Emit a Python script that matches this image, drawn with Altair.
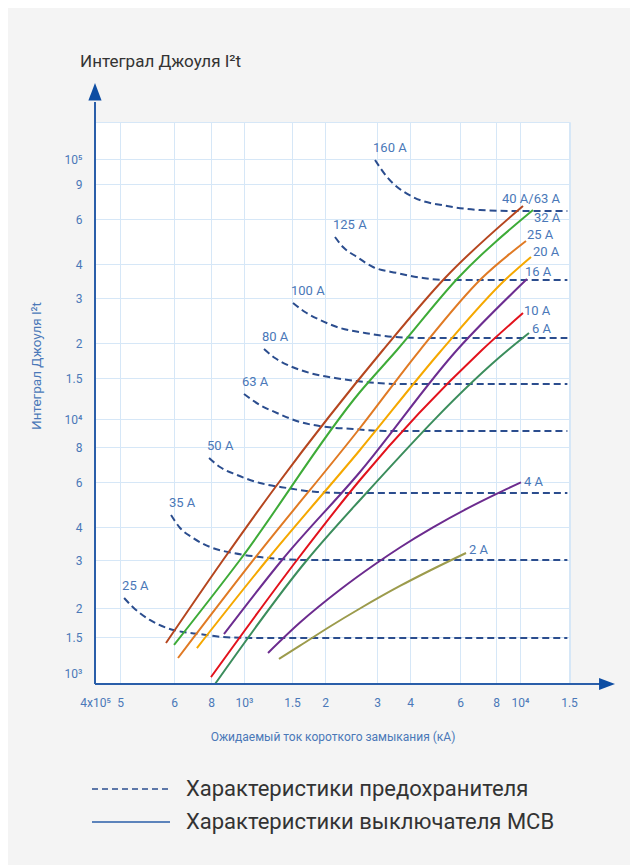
import altair as alt
import pandas as pd

# ---------------- axis ticks ----------------
x_ticks = [400, 500, 600, 800, 1000, 1500, 2000, 3000, 4000, 6000, 8000, 10000, 15000]
x_tick_labels = ["4x10⁵", "5", "6", "8", "10³", "1.5", "2", "3", "4", "6", "8", "10⁴", "1.5"]
y_ticks = [1000, 1500, 2000, 3000, 4000, 6000, 8000, 10000, 15000, 20000, 30000, 40000, 60000, 90000, 100000]
y_tick_labels = ["10³", "1.5", "2", "3", "4", "6", "8", "10⁴", "1.5", "2", "3", "4", "6", "9", "10⁵"]

# ---------------- fuse characteristics (dashed) ----------------
fuse_names = ["25 A", "35 A", "50 A", "63 A", "80 A", "100 A", "125 A", "160 A"]
fuse_x = [
    [507, 522, 553, 586, 643, 734, 868, 1052, 14800],
    [594, 629, 696, 794, 928, 1145, 1355, 1755, 14800],
    [788, 850, 954, 1145, 1438, 1865, 2374, 14800],
    [1000, 1145, 1321, 1608, 2031, 2488, 3217, 14800],
    [1184, 1299, 1475, 1755, 2162, 2732, 3666, 14800],
    [1513, 1680, 1915, 2248, 2732, 3510, 4704, 14800],
    [2162, 2301, 2567, 2908, 3572, 4445, 5400, 14800],
    [2954, 3273, 4098, 5400, 7040, 9370, 14800],
]
fuse_y = [
    [2176, 2017, 1776, 1640, 1576, 1545, 1500, 1485, 1485],
    [4457, 3965, 3634, 3360, 3189, 3080, 3026, 3000, 3000],
    [7308, 6787, 6355, 5946, 5684, 5483, 5435, 5435],
    [12805, 11485, 10611, 9764, 9382, 9233, 9090, 9090],
    [19040, 17680, 16555, 15630, 15000, 14420, 14140, 14140],
    [28680, 26440, 24610, 22900, 21890, 21110, 20920, 20920],
    [51020, 46620, 42600, 39000, 37070, 35530, 34950, 34930],
    [99580, 92700, 77420, 69750, 66590, 65830, 65830],
]

# ---------------- MCB characteristics (solid) ----------------
mcb_names = ["2 A", "4 A", "6 A", "10 A", "16 A", "20 A", "25 A", "32 A", "40 A/63 A"]
mcb_x = [
    [1344, 1608, 2080, 2627, 3666, 4704, 6295],
    [1225, 1608, 2248, 2954, 3666, 4820, 6345, 8075, 10080],
    [822, 1710, 2627, 8944, 10773],
    [800, 1567, 2627, 7153, 10251],
    [874, 1379, 2627, 5856, 10596],
    [717, 1214, 2627, 5102, 8698, 10953],
    [619, 1097, 2627, 4338, 7153, 10509],
    [600, 973, 2627, 3572, 5904, 11136],
    [584, 868, 1321, 3161, 5313, 10251],
]
mcb_y = [
    [1171, 1360, 1665, 1990, 2409, 2745, 3189],
    [1253, 1730, 2332, 2893, 3345, 3986, 4717, 5400, 5979],
    [900, 3000, 5102, 18880, 21886],
    [962, 3000, 6099, 18880, 26207],
    [1545, 3000, 6514, 18880, 35230],
    [1325, 3000, 7805, 18574, 34930, 42600],
    [1184, 3053, 9308, 18880, 35530, 49215],
    [1371, 3000, 13060, 18880, 35530, 66590],
    [1402, 3000, 5840, 18880, 35530, 69750],
]
mcb_colors = ["#9c9b4c", "#6c2b8e", "#3b8d5c", "#e2121c", "#6c2d90",
              "#f5a800", "#e07a24", "#3eab38", "#b5461f"]

# ---------------- texts ----------------
top_title = "Интеграл Джоуля I²t"
y_title = "Интеграл Джоуля I²t"
x_title = "Ожидаемый ток короткого замыкания (кА)"
legend_fuse = "Характеристики предохранителя"
legend_mcb = "Характеристики выключателя MCB"

# ---------------- styling / layout ----------------
BLUE = "#4a78b8"
FUSE = "#2b4d8e"
AXIS = "#2a5ea9"
GRID = "#d6e7f7"
FONT = "Roboto"
W, H = 475, 562

# piecewise log scales (the original axis is drawn schematically)
x_domain = x_ticks
x_range = [0, 25, 79, 116, 149, 197, 230, 282, 315, 365, 401, 425, 474]
y_domain = [900] + y_ticks + [140000]
y_range = [562, 551, 515, 486, 438, 405, 360, 325, 297, 256, 221, 176, 142, 97, 62, 37, 0]


def label_expr(vals, labs):
    s = "''"
    for v, l in reversed(list(zip(vals, labs))):
        s = f"datum.value == {v} ? '{l}' : ({s})"
    return s


x_axis = alt.Axis(values=x_ticks, labelExpr=label_expr(x_ticks, x_tick_labels), title=None,
                  domain=False, ticks=False, tickSize=0, labelPadding=13, labelFont=FONT,
                  labelFontSize=12, labelColor=BLUE, gridColor=GRID, gridWidth=1,
                  labelOverlap=False, labelFlush=False, labelBound=False)
y_axis = alt.Axis(values=y_ticks, labelExpr=label_expr(y_ticks, y_tick_labels), title=None,
                  domain=False, ticks=False, tickSize=0, labelPadding=13, labelFont=FONT,
                  labelFontSize=12, labelColor=BLUE, gridColor=GRID, gridWidth=1,
                  gridOpacity={"condition": {"test": "datum.value == 1000", "value": 0}, "value": 1},
                  labelOverlap=False, labelFlush=False, labelBound=False)

xs = alt.Scale(type="log", domain=x_domain, range=x_range, nice=False)
ys = alt.Scale(type="log", domain=y_domain, range=y_range, nice=False)
X = alt.X("x:Q", scale=xs, axis=x_axis)
Y = alt.Y("y:Q", scale=ys, axis=y_axis)

fuse_rows = []
for i, n in enumerate(fuse_names):
    for j, (a, b) in enumerate(zip(fuse_x[i], fuse_y[i])):
        fuse_rows.append({"name": n, "x": a, "y": b, "o": j})
fuse_df = pd.DataFrame(fuse_rows)

mcb_rows = []
for i, n in enumerate(mcb_names):
    for j, (a, b) in enumerate(zip(mcb_x[i], mcb_y[i])):
        mcb_rows.append({"name": n, "x": a, "y": b, "o": j})
mcb_df = pd.DataFrame(mcb_rows)

fuse_lines = alt.Chart(fuse_df).mark_line(
    strokeDash=[7, 4], strokeWidth=2, color=FUSE, interpolate="monotone"
).encode(x=X, y=Y, detail="name:N", order="o:Q")

mcb_lines = alt.Chart(mcb_df).mark_line(strokeWidth=2, interpolate="monotone").encode(
    x=X, y=Y,
    color=alt.Color("name:N", scale=alt.Scale(domain=mcb_names, range=mcb_colors), legend=None),
    order="o:Q",
)

fuse_lab_df = pd.DataFrame({"name": fuse_names,
                            "x": [v[0] for v in fuse_x],
                            "y": [v[0] for v in fuse_y]})
fuse_labels = alt.Chart(fuse_lab_df).mark_text(
    align="left", baseline="middle", dx=-2, dy=-12, fontSize=13, font=FONT, color=BLUE
).encode(x=X, y=Y, text="name:N")

# label offsets relative to the end of each MCB curve
mcb_offsets = {"2 A": (3, -3), "4 A": (3, 0), "6 A": (3, -4), "10 A": (1, -2),
               "16 A": (-2, -7), "20 A": (2, -5), "25 A": (1, -6), "32 A": (1, 8),
               "40 A/63 A": (-21, -7)}
mcb_label_layers = []
for i, n in enumerate(mcb_names):
    d = pd.DataFrame({"name": [n], "x": [mcb_x[i][-1]], "y": [mcb_y[i][-1]]})
    dx, dy = mcb_offsets[n]
    mcb_label_layers.append(
        alt.Chart(d).mark_text(align="left", baseline="middle", dx=dx, dy=dy,
                               fontSize=13, font=FONT, color=BLUE)
        .encode(x=X, y=Y, text="name:N")
    )

one = pd.DataFrame({"k": [0]})
base = alt.Chart(one)

y_axis_line = base.mark_rule(color=AXIS, strokeWidth=2).encode(
    x=alt.value(0), y=alt.value(H), y2=alt.value(-20))
x_axis_line = base.mark_rule(color=AXIS, strokeWidth=2).encode(
    x=alt.value(0), x2=alt.value(506), y=alt.value(H))
y_arrow = base.mark_point(shape="M0,-1L0.55,0.45L-0.55,0.45Z", filled=True, size=576,
                          color="#0d4da3", opacity=1).encode(x=alt.value(0), y=alt.value(-27))
x_arrow = base.mark_point(shape="M1,0L-0.45,0.55L-0.45,-0.55Z", filled=True, size=484,
                          color="#0d4da3", opacity=1).encode(x=alt.value(509), y=alt.value(H))

top_title_t = base.mark_text(align="left", baseline="middle", fontSize=17, font=FONT,
                             color="#333333").encode(
    x=alt.value(-15), y=alt.value(-60), text=alt.value(top_title))
y_title_t = base.mark_text(align="center", baseline="middle", fontSize=13.5, font=FONT,
                           color=BLUE, angle=270).encode(
    x=alt.value(-58), y=alt.value(244), text=alt.value(y_title))
x_title_t = base.mark_text(align="center", baseline="middle", fontSize=12, font=FONT,
                           color=BLUE).encode(
    x=alt.value(238), y=alt.value(615), text=alt.value(x_title))

leg_dash = base.mark_rule(color=FUSE, strokeWidth=1.6, strokeDash=[6, 4]).encode(
    x=alt.value(-3), x2=alt.value(75), y=alt.value(667))
leg_solid = base.mark_rule(color=AXIS, strokeWidth=1.6).encode(
    x=alt.value(-3), x2=alt.value(75), y=alt.value(700))
leg_t1 = base.mark_text(align="left", baseline="middle", fontSize=22, font=FONT,
                        color="#333333").encode(
    x=alt.value(91), y=alt.value(667), text=alt.value(legend_fuse))
leg_t2 = base.mark_text(align="left", baseline="middle", fontSize=22, font=FONT,
                        color="#333333").encode(
    x=alt.value(91), y=alt.value(700), text=alt.value(legend_mcb))

chart = alt.layer(
    fuse_lines, mcb_lines, fuse_labels, *mcb_label_layers,
    y_axis_line, x_axis_line, y_arrow, x_arrow,
    top_title_t, y_title_t, x_title_t, leg_dash, leg_solid, leg_t1, leg_t2,
).properties(
    width=W, height=H,
    background="#f4f4f4",
    padding={"left": 87, "top": 114, "right": 60, "bottom": 181},
    autosize=alt.AutoSizeParams(type="none"),
).configure_view(fill="white", stroke=GRID, strokeWidth=1)

chart.save("out.html", embed_options={"renderer": "svg", "actions": False})
